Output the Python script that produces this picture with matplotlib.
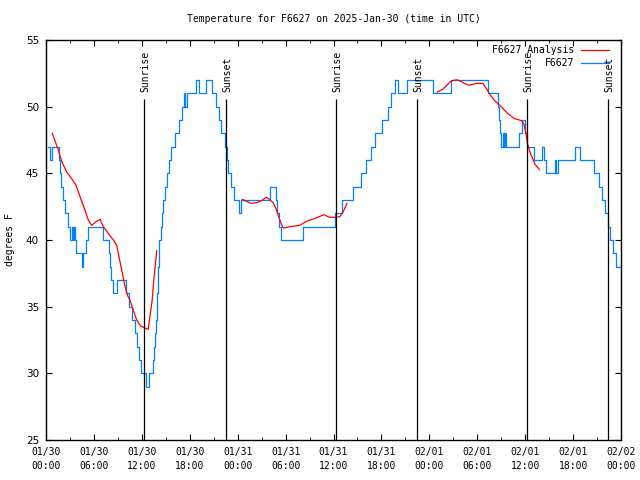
import numpy as np
import matplotlib
matplotlib.use("Agg")
import matplotlib.pyplot as plt
from matplotlib.lines import Line2D

# hours since 2025-01-30 00:00 UTC, observed temps change to this value at that hour
obs_hours = [0.29, 0.5, 0.75, 1.6, 1.75, 1.9, 2.1, 2.35, 2.7, 3.05,
             3.2, 3.35, 3.5, 3.6, 3.8, 4.45, 4.65, 4.95, 5.3, 7.1,
             7.85, 8.0, 8.15, 8.35, 8.95, 10.0, 10.4, 10.8, 11.1, 11.35,
             11.6, 11.9, 12.5, 12.95, 13.35, 13.5, 13.65, 13.75, 13.85, 13.95,
             14.0, 14.05, 14.1, 14.15, 14.4, 14.55, 14.7, 14.9, 15.2, 15.35,
             15.6, 16.1, 16.6, 17.0, 17.3, 17.45, 17.6, 18.75, 19.15, 20.0,
             20.8, 21.3, 21.6, 21.9, 22.4, 22.7, 22.85, 23.15, 23.6, 24.15,
             24.45, 28.1, 28.8, 28.95, 29.15, 29.4, 32.2, 36.15, 37.1, 38.4,
             39.45, 40.05, 40.7, 41.2, 42.1, 42.8, 43.25, 43.65, 44.05, 45.2,
             48.4, 50.7, 55.4, 56.55, 56.7, 56.85, 57.0, 57.2, 57.35, 57.5,
             57.65, 59.2, 59.6, 60.0, 60.2, 61.15, 62.15, 62.35, 62.65, 63.75,
             63.9, 64.05, 66.25, 66.9, 68.6, 69.3, 69.6, 69.95, 70.4, 70.65,
             70.95, 71.35, 71.9]
obs_temps = [47, 46, 47, 46, 45, 44, 43, 42, 41, 40,
             41, 40, 41, 40, 39, 38, 39, 40, 41, 40,
             39, 38, 37, 36, 37, 36, 35, 34, 33, 32,
             31, 30, 29, 30, 31, 32, 33, 34, 35, 36,
             37, 38, 39, 40, 41, 42, 43, 44, 45, 46,
             47, 48, 49, 50, 51, 50, 51, 52, 51, 52,
             51, 50, 49, 48, 47, 46, 45, 44, 43, 42,
             43, 44, 43, 42, 41, 40, 41, 42, 43, 44,
             45, 46, 47, 48, 49, 50, 51, 52, 51, 52,
             51, 52, 51, 50, 49, 48, 47, 48, 47, 48,
             47, 48, 49, 48, 47, 46, 47, 46, 45, 46,
             45, 46, 47, 46, 45, 44, 43, 42, 41, 40,
             39, 38, 38]

ana_hours = [0.79, 1.54, 1.96, 2.59, 3.21, 3.76, 4.26, 4.88, 5.3, 5.72,
             6.34, 6.76, 7.18, 7.8, 8.43, 8.85, 9.14, 9.48, 9.9, 10.2,
             10.5, 10.93, 11.35, 11.85, 12.4, 12.8, 13.0, 13.3, 13.5, 13.7,
             13.86, np.nan,
             24.58, 25.1, 25.7, 26.35, 26.97, 27.6, 28.0, 28.43, 28.76, 29.05,
             29.35, 29.6, 29.8, 30.5, 31.77, 32.6, 33.6, 34.8, 35.5, 36.19,
             36.8, 37.2, 37.7, np.nan,
             49.0, 49.67, 50.18, 50.68, 51.2, 51.6, 52.4, 53.0, 53.85, 54.7,
             55.1, 55.5, 56.1, 57.0, 57.8, 58.65, 59.27, 59.56, 59.85, 60.1,
             60.3, 60.6, 60.94, 61.2, 61.77]
ana_temps = [48.0, 46.75, 45.9, 45.1, 44.6, 44.1, 43.25, 42.25, 41.5, 41.1,
             41.4, 41.55, 41.0, 40.5, 40.0, 39.6, 38.75, 37.75, 36.5, 35.85,
             35.5, 34.75, 34.0, 33.55, 33.4, 33.3, 34.2, 35.5, 37.0, 38.2,
             39.2, np.nan,
             43.05, 42.9, 42.75, 42.8, 42.95, 43.2, 43.05, 42.8, 42.4, 41.9,
             41.4, 41.0, 40.9, 41.0, 41.1, 41.4, 41.6, 41.9, 41.7, 41.7,
             41.75, 42.1, 42.75, np.nan,
             51.1, 51.3, 51.6, 51.9, 52.0, 52.0, 51.75, 51.6, 51.75, 51.75,
             51.4, 51.0, 50.5, 50.0, 49.5, 49.1, 49.0, 48.95, 48.7, 47.95,
             47.2, 46.6, 46.1, 45.7, 45.3]

sun_hours = [12.29, 22.5, 36.31, 46.5, 60.27, 70.41]
sun_labels = ["Sunrise", "Sunset", "Sunrise", "Sunset", "Sunrise", "Sunset"]

xtick_hours = list(range(0, 73, 6))
xtick_labels = ["01/30\n00:00", "01/30\n06:00", "01/30\n12:00", "01/30\n18:00",
                "01/31\n00:00", "01/31\n06:00", "01/31\n12:00", "01/31\n18:00",
                "02/01\n00:00", "02/01\n06:00", "02/01\n12:00", "02/01\n18:00",
                "02/02\n00:00"]
yticks = [25, 30, 35, 40, 45, 50, 55]

mono = "DejaVu Sans Mono"

fig = plt.figure(figsize=(6.4, 4.8), dpi=100)
ax = fig.add_axes([46/640, 40/480, 575/640, 400/480])

ax.plot(obs_hours, obs_temps, drawstyle="steps-post", color="#0080ff", lw=0.9)
ax.plot(ana_hours, ana_temps, color="#ff0000", lw=0.9)

ax.vlines(sun_hours, 25, 50.6, color="black", lw=0.9)
for h, lab in zip(sun_hours, sun_labels):
    ax.text(h + 0.15, 51.1, lab, rotation=90, ha="center", va="bottom",
            family=mono, fontsize=7)

ax.set_xlim(0, 72)
ax.set_ylim(25, 55)
ax.set_xticks(xtick_hours)
ax.set_xticklabels(xtick_labels, family=mono, fontsize=7, linespacing=1.5)
ax.set_xticks(np.arange(3, 72, 6), minor=True)
ax.set_yticks(yticks)
ax.set_yticklabels([str(v) for v in yticks], fontsize=7.5)
ax.tick_params(axis="both", which="both", direction="in", top=True, right=True)
ax.tick_params(axis="x", which="major", length=4, pad=5)
ax.tick_params(axis="x", which="minor", length=2.5)
ax.tick_params(axis="y", which="major", length=4, pad=5)
for s in ax.spines.values():
    s.set_linewidth(1.0)

# legend, gnuplot style: text right-aligned, sample on the right
entries = [("F6627 Analysis", "#ff0000", 0.975), ("F6627", "#0080ff", 0.943)]
for lab, col, yy in entries:
    ax.text(0.918, yy, lab, transform=ax.transAxes, ha="right", va="center",
            family=mono, fontsize=7)
    ax.add_line(Line2D([0.930, 0.979], [yy, yy], transform=ax.transAxes,
                       color=col, lw=0.9))

fig.text(333.5/640, 1 - 19/480, "Temperature for F6627 on 2025-Jan-30 (time in UTC)",
         ha="center", va="center", family=mono, fontsize=7)
fig.text(10/640, 0.5, "degrees F", rotation=90, ha="center", va="center",
         family=mono, fontsize=7)

fig.savefig("out.png", dpi=100)
